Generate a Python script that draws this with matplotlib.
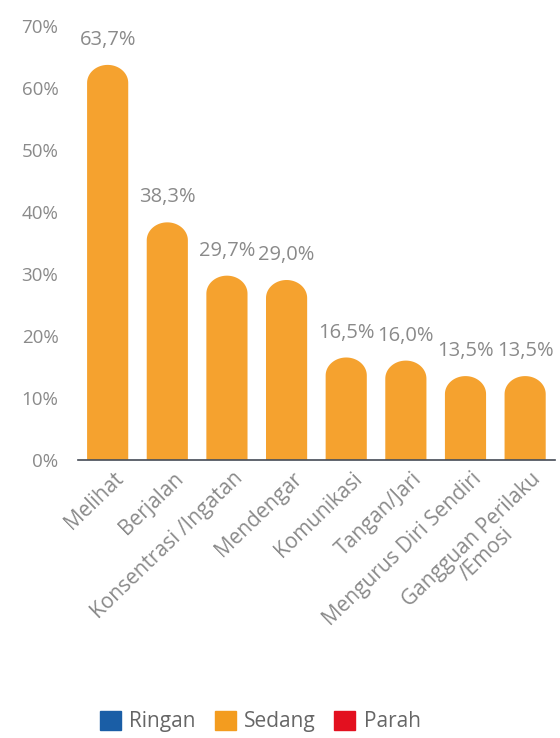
import numpy as np
import matplotlib.pyplot as plt
import matplotlib.transforms as mtransforms
from matplotlib.patches import PathPatch, Patch
from matplotlib.path import Path

kategori = ['Melihat', 'Berjalan', 'Konsentrasi /Ingatan', 'Mendengar', 'Komunikasi',
            'Tangan/Jari', 'Mengurus Diri Sendiri', 'Gangguan Perilaku\n/Emosi']
nilai = [63.7, 38.3, 29.7, 29.0, 16.5, 16.0, 13.5, 13.5]
label_nilai = ['63,7%', '38,3%', '29,7%', '29,0%', '16,5%', '16,0%', '13,5%', '13,5%']
yticks = [0, 10, 20, 30, 40, 50, 60, 70]
legend_nama = ['Ringan', 'Sedang', 'Parah']
legend_warna = ['#1a5ea6', '#f39c1f', '#e3101f']

plt.rcParams['font.family'] = ['Open Sans', 'DejaVu Sans']
abu = '#8a8a8a'
oranye = '#f5a22f'

fig = plt.figure(figsize=(5.6, 7.38), dpi=100)
ax = fig.add_axes([0.139, 0.377, 0.852, 0.588])

lebar = 0.69
r = 2.9  # rounded top, in % units
x = list(range(len(nilai)))

# bar with a rounded top as one path
t = np.linspace(0, np.pi, 40)
for xi, v in zip(x, nilai):
    h = lebar / 2
    arc_x = xi + h * np.cos(t)
    arc_y = (v - r) + r * np.sin(t)
    xs = np.concatenate([[xi + h], arc_x, [xi - h, xi + h]])
    ys = np.concatenate([[0], arc_y, [0, 0]])
    verts = np.column_stack([xs, ys])
    codes = [Path.MOVETO] + [Path.LINETO] * (len(verts) - 2) + [Path.CLOSEPOLY]
    ax.add_patch(PathPatch(Path(verts, codes), facecolor=oranye, lw=0, zorder=2))

for xi, v, s in zip(x, nilai, label_nilai):
    ax.text(xi, v + 2.4, s, ha='center', va='bottom', fontsize=14.5, color=abu)

ax.set_xlim(-0.5, len(nilai) - 0.5)
ax.set_ylim(0, 70)
ax.set_yticks(yticks)
ax.set_yticklabels([f'{v}%' for v in yticks], fontsize=13.5, color=abu)
ax.set_xticks(x)
ax.set_xticklabels(kategori, rotation=44, ha='right', rotation_mode='anchor',
                   fontsize=15, color=abu, linespacing=1.0)
ax.tick_params(axis='y', length=0, pad=14)
ax.tick_params(axis='x', length=0, pad=6)

# nudge x labels a little to the right, second line centred
geser = mtransforms.ScaledTranslation(4 / 72, 0, fig.dpi_scale_trans)
for lbl in ax.get_xticklabels():
    lbl.set_multialignment('center')
    lbl.set_transform(lbl.get_transform() + geser)

for s in ['top', 'right', 'left']:
    ax.spines[s].set_visible(False)
ax.spines['bottom'].set_color('#444a55')
ax.spines['bottom'].set_linewidth(1.2)
ax.spines['bottom'].set_zorder(3)

handles = [Patch(color=c, label=n) for n, c in zip(legend_nama, legend_warna)]
fig.legend(handles=handles, loc='center', bbox_to_anchor=(0.465, 0.022), ncol=3,
           frameon=False, fontsize=15, handlelength=1.0, handleheight=1.0,
           columnspacing=0.9, handletextpad=0.4, labelcolor='#666666')

fig.savefig('out.png', dpi=100)
